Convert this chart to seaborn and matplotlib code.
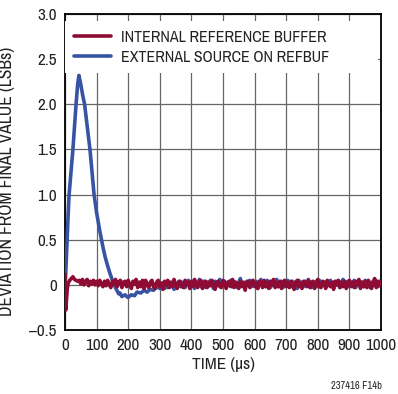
import numpy as np
import pandas as pd
import matplotlib
matplotlib.use("Agg")
import matplotlib.pyplot as plt
from matplotlib.lines import Line2D
import seaborn as sns

# ---------------- data ----------------
series_names = ["INTERNAL REFERENCE BUFFER", "EXTERNAL SOURCE ON REFBUF"]
x_ticks = [0, 100, 200, 300, 400, 500, 600, 700, 800, 900, 1000]
y_ticks = [-0.5, 0, 0.5, 1.0, 1.5, 2.0, 2.5, 3.0]
y_tick_labels = ["\u20130.5", "0", "0.5", "1.0", "1.5", "2.0", "2.5", "3.0"]

# internal reference buffer: start-up section (µs, LSB)
red_t_start = [0, 2, 4, 7, 10, 15, 20, 25, 30, 35, 40]
red_v_start = [0.12, -0.28, -0.20, -0.05, 0.02, 0.05, 0.07, 0.09, 0.06, 0.05, 0.04]
# internal reference buffer: settled section, t = 45 ... 1000 µs every 5 µs
red_v_noise = [
    0.05, 0.01, 0.06, 0.00, 0.04, 0.06, -0.01, 0.04, 0.01, 0.05, 0.00, 0.04, -0.01, 0.05, 0.01, -0.02,
    0.04, -0.01, 0.05, 0.00, -0.03, 0.04, 0.01, 0.06, -0.02, 0.03, 0.05, -0.03, 0.03, 0.04, -0.02, 0.05,
    0.00, -0.04, 0.04, 0.01, 0.06, -0.03, 0.03, -0.02, 0.05, -0.04, 0.05, 0.00, -0.03, 0.03, 0.05, -0.02,
    -0.04, 0.03, 0.05, -0.02, 0.02, -0.05, 0.04, 0.00, 0.05, -0.03, 0.03, -0.02, 0.06, 0.00, -0.04, 0.03,
    0.04, -0.02, -0.03, 0.05, 0.00, 0.03, -0.04, 0.04, -0.02, 0.06, 0.00, -0.03, 0.03, 0.05, -0.04, 0.02,
    0.04, -0.03, 0.03, -0.01, 0.05, 0.00, -0.05, 0.03, 0.04, -0.02, -0.03, 0.05, 0.03, -0.04, 0.02, 0.04,
    -0.02, 0.06, -0.03, 0.03, 0.00, -0.04, 0.04, -0.02, 0.03, -0.06, 0.02, 0.04, -0.03, 0.03, 0.05, -0.02,
    0.02, -0.04, 0.04, 0.03, -0.03, 0.05, -0.02, 0.03, -0.04, 0.04, 0.00, 0.06, -0.03, 0.03, -0.02, 0.04,
    -0.04, 0.02, 0.05, -0.02, 0.03, -0.03, 0.04, 0.00, -0.05, 0.03, 0.05, -0.02, 0.02, -0.04, 0.04, 0.03,
    -0.02, 0.05, -0.03, 0.03, 0.04, -0.04, 0.02, 0.06, -0.02, -0.03, 0.04, 0.03, -0.04, 0.05, 0.00, -0.02,
    0.03, -0.05, 0.04, 0.00, 0.05, -0.03, 0.03, -0.02, 0.04, -0.04, 0.02, 0.05, -0.02, 0.03, -0.03, 0.04,
    0.00, 0.06, -0.04, 0.03, -0.02, 0.04, -0.03, 0.05, 0.00, -0.04, 0.03, 0.07, -0.03, 0.04, -0.01, 0.03,
]

# external source on REFBUF: transient section (µs, LSB)
blue_t_start = [0, 5, 10, 13, 20, 25, 30, 35, 40, 44, 50, 56, 62, 70, 79, 85, 92, 100, 111, 120,
                127, 135, 142, 150, 158, 164, 170, 174, 180, 190, 199, 210, 220, 228, 240, 250,
                260, 269, 280, 290, 300]
blue_v_start = [-0.05, 0.35, 0.78, 1.00, 1.30, 1.50, 1.75, 2.00, 2.22, 2.32, 2.22, 2.10, 2.00, 1.76,
                1.50, 1.27, 1.00, 0.80, 0.58, 0.42, 0.31, 0.21, 0.13, 0.05, -0.02, -0.06, -0.10,
                -0.09, -0.13, -0.11, -0.14, -0.11, -0.12, -0.08, -0.09, -0.06, -0.08, -0.05, -0.06,
                -0.02, -0.04]
# external source: settled section, t = 305 ... 1000 µs every 5 µs
blue_v_noise = [
    -0.02, 0.02, -0.04, 0.01, -0.03, 0.03, -0.02, 0.01, -0.05, 0.02, -0.03, 0.04, -0.02, 0.01,
    0.03, -0.03, 0.02, 0.05, -0.02, 0.00, 0.04, -0.04, 0.03, -0.01, 0.06, -0.02, 0.02, 0.04,
    -0.03, 0.03, -0.01, 0.05, 0.01, -0.04, 0.04, -0.01, 0.03, 0.06, -0.02, 0.02, 0.04, -0.03,
    0.03, -0.01, 0.05, -0.02, 0.04, 0.00, -0.03, 0.03, 0.07, -0.01, 0.02, -0.03, 0.04, 0.00,
    0.05, -0.02, 0.03, -0.01, 0.04, -0.04, 0.02, 0.06, -0.01, 0.03, -0.02, 0.05, 0.00, -0.03,
    0.04, -0.01, 0.03, 0.06, -0.02, 0.01, 0.04, -0.03, 0.03, -0.01, 0.05, 0.00, -0.02, 0.04,
    -0.01, 0.03, -0.04, 0.05, 0.00, 0.03, -0.02, 0.04, -0.01, 0.06, 0.01, -0.03, 0.03, -0.01,
    0.04, -0.02, 0.05, 0.00, -0.01, 0.03, -0.03, 0.04, 0.00, 0.05, -0.02, 0.03, -0.01, 0.04,
    0.00, -0.03, 0.03, 0.06, -0.01, 0.02, 0.04, -0.02, 0.03, -0.01, 0.05, -0.03, 0.02, 0.04,
    -0.01, 0.03, -0.02, 0.05, 0.00, 0.04, -0.03, 0.03, -0.01, 0.06, 0.00, -0.02, 0.04, 0.02,
]

red_t = red_t_start + list(range(45, 1001, 5))
red_v = red_v_start + red_v_noise
blue_t = blue_t_start + list(range(305, 1001, 5))
blue_v = blue_v_start + blue_v_noise

df_red = pd.DataFrame({"t": red_t, "v": red_v})
df_blue = pd.DataFrame({"t": blue_t, "v": blue_v})

# ---------------- style ----------------
sns.set_theme(style="white")
plt.rcParams["font.family"] = ["Archivo Narrow", "DejaVu Sans"]

RED = "#8E0B33"
BLUE = "#3953A4"
TXT = "#222222"

fig = plt.figure(figsize=(3.98, 3.94), dpi=100)
ax = fig.add_axes([65 / 398, 64 / 394, 316 / 398, 316 / 394])

sns.lineplot(data=df_blue, x="t", y="v", ax=ax, color=BLUE, lw=2.6, zorder=3,
             estimator=None, sort=False)
sns.lineplot(data=df_red, x="t", y="v", ax=ax, color=RED, lw=2.6, zorder=4,
             estimator=None, sort=False)

ax.set_xlim(0, 1000)
ax.set_ylim(-0.5, 3.0)
ax.set_xticks(x_ticks)
ax.set_xticklabels([str(v) for v in x_ticks])
ax.set_yticks(y_ticks)
ax.set_yticklabels(y_tick_labels)
ax.tick_params(axis="both", length=0, labelsize=12.3, colors=TXT, pad=6)
ax.grid(True, color="#666666", lw=0.9)
ax.set_axisbelow(True)
for s in ax.spines.values():
    s.set_color("black")
    s.set_linewidth(1.3)

ax.set_xlabel("TIME (\u00b5s)", fontsize=12.5, color=TXT, labelpad=3)
ax.set_ylabel("DEVIATION FROM FINAL VALUE (LSBs)", fontsize=12.7, color=TXT)
ax.yaxis.set_label_coords(-50 / 316, 0.47)

handles = [Line2D([0], [0], color=RED, lw=2.6), Line2D([0], [0], color=BLUE, lw=2.6)]
leg = ax.legend(handles, series_names, loc="upper left", mode="expand",
                bbox_to_anchor=(0.0, 0.0, 0.99, 0.978),
                frameon=True, fancybox=False, framealpha=1.0, edgecolor="white",
                fontsize=11.5, handlelength=2.3, handletextpad=0.65, labelspacing=0.3,
                borderpad=0.55, borderaxespad=0.0)
leg.get_frame().set_linewidth(0)
leg.set_zorder(5)
for t in leg.get_texts():
    t.set_color(TXT)

fig.text(382 / 398, 1 - 386 / 394, "237416 F14b", ha="right", va="center",
         fontsize=7.5, color=TXT)

fig.savefig("out.png", dpi=100)
